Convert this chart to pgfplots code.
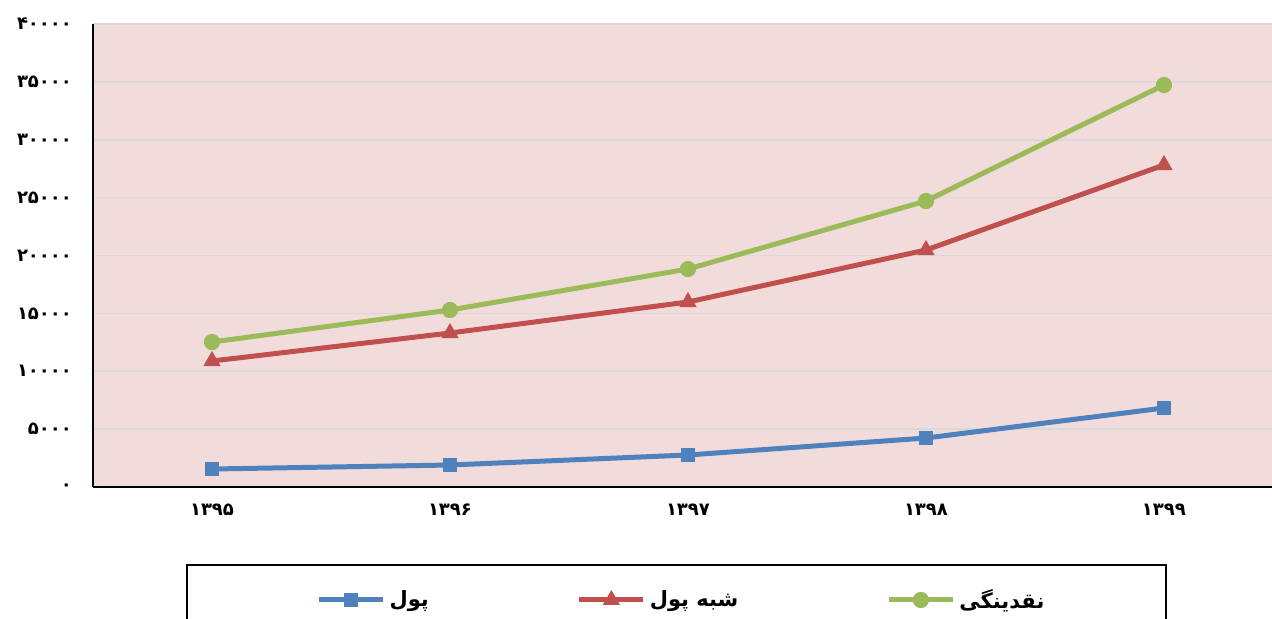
\documentclass[border=0pt]{standalone}
\usepackage{fontspec}
\usepackage{pgfplots}
\pgfplotsset{compat=1.18}
\TeXXeTstate=1
\newfontfamily\fa[Script=Arabic]{DejaVu Sans}

\definecolor{bgpink}{HTML}{F2DCDB}
\definecolor{gridgray}{HTML}{D9D9D9}
\definecolor{cblue}{HTML}{4F81BD}
\definecolor{cred}{HTML}{C0504D}
\definecolor{cgreen}{HTML}{9BBB59}

\begin{document}
\begin{tikzpicture}
\begin{axis}[
    scale only axis,
    width=589.5pt,
    height=231.5pt,
    xmin=-0.5, xmax=4.454,
    ymin=0, ymax=40000,
    scaled y ticks=false,
    axis x line*=bottom,
    axis y line*=left,
    axis line style={black, line width=1pt},
    axis background/.style={fill=bgpink},
    xtick={0,1,2,3,4},
    xticklabels={۱۳۹۵,۱۳۹۶,۱۳۹۷,۱۳۹۸,۱۳۹۹},
    ytick={0,5000,10000,15000,20000,25000,30000,35000,40000},
    yticklabels={۰,۵۰۰۰,۱۰۰۰۰,۱۵۰۰۰,۲۰۰۰۰,۲۵۰۰۰,۳۰۰۰۰,۳۵۰۰۰,۴۰۰۰۰},
    tick label style={font=\fa\bfseries\fontsize{9}{10}\selectfont},
    x tick label style={yshift=-5pt},
    y tick label style={xshift=-7pt},
    major tick length=0pt,
    ymajorgrids,
    grid style={gridgray, line width=0.8pt},
    clip=false,
    legend columns=3,
    legend cell align=left,
    legend style={at={(0.5,-0.244)}, anchor=center, draw=none, fill=none,
        font=\fa\bfseries\fontsize{10.5}{12}\selectfont,
        /tikz/every even column/.append style={column sep=72pt}},
    legend image code/.code={
        \draw[#1, mark repeat=2, mark phase=2] plot coordinates {(0pt,0pt) (16pt,0pt) (32pt,0pt)};
    },
    every axis plot/.append style={line width=2.5pt},
]
\addplot[cblue, mark=square*, mark size=3.3pt, mark options={solid, line width=0.5pt}]
    coordinates {(0,1555) (1,1900) (2,2765) (3,4233) (4,6825)};
\addlegendentry{\beginR پول\endR}
\addplot[cred, mark=triangle*, mark size=4.5pt, mark options={solid, line width=0.5pt}]
    coordinates {(0,10886) (1,13305) (2,15983) (3,20475) (4,27819)};
\addlegendentry{\beginR شبه پول\endR}
\addplot[cgreen, mark=*, mark size=3.8pt, mark options={solid, line width=0.5pt}]
    coordinates {(0,12527) (1,15292) (2,18834) (3,24708) (4,34730)};
\addlegendentry{\beginR نقدینگی\endR}
\end{axis}
\draw[black, line width=0.9pt] (47pt,-80pt) rectangle (536.5pt,-39pt);
\pgfresetboundingbox
\useasboundingbox (-46.5pt,-65.5pt) rectangle (589.5pt,243.5pt);
\end{tikzpicture}
\end{document}
